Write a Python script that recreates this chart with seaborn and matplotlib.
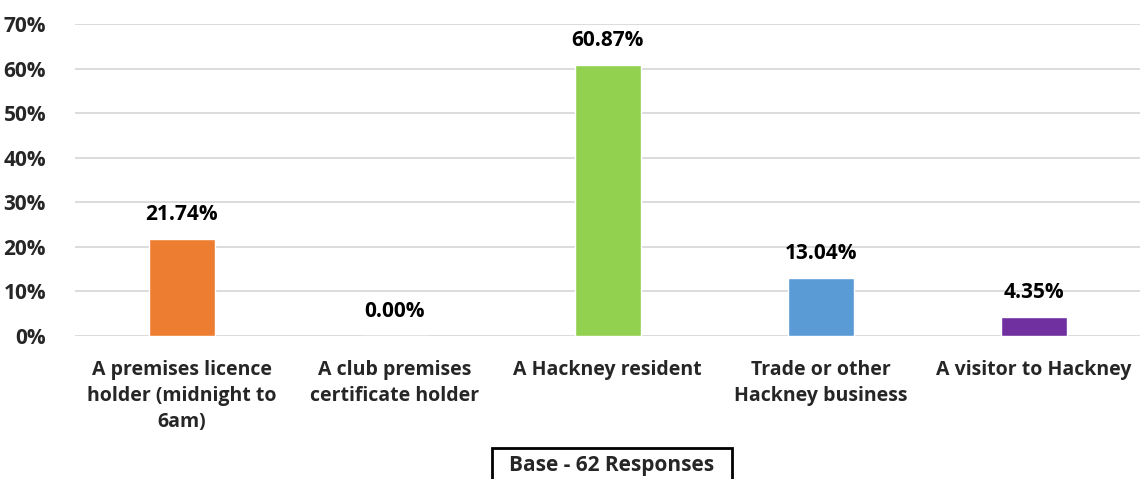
import numpy as np
import pandas as pd
import matplotlib
matplotlib.use("Agg")
import matplotlib.pyplot as plt
import seaborn as sns
from matplotlib.patches import Rectangle
from matplotlib.ticker import PercentFormatter

categories = [
    "A premises licence\nholder (midnight to\n6am)",
    "A club premises\ncertificate holder",
    "A Hackney resident",
    "Trade or other\nHackney business",
    "A visitor to Hackney",
]
values = [21.74, 0.00, 60.87, 13.04, 4.35]
colors = ["#ED7D31", "#A5A5A5", "#92D050", "#5B9BD5", "#7030A0"]
y_ticks = [0, 10, 20, 30, 40, 50, 60, 70]
base_note = "Base - 62 Responses"

sns.set_theme(style="white")
plt.rcParams["font.family"] = ["Open Sans", "DejaVu Sans"]
plt.rcParams["font.weight"] = "bold"

data = pd.DataFrame({"category": categories, "value": values})

fig = plt.figure(figsize=(11.4, 4.79), dpi=100)
ax = fig.add_axes([0.066, 0.2985, 0.934, 0.6515])

sns.barplot(data=data, x="category", y="value", hue="category",
            palette=colors, saturation=1, width=0.31, legend=False, ax=ax, zorder=3)

fs = 14
fs_num = 15
ax.set_ylim(0, 70)
ax.set_yticks(y_ticks)
ax.yaxis.set_major_formatter(PercentFormatter(decimals=0))
ax.grid(axis="y", color="#D9D9D9", linewidth=1.3, zorder=0)
for s in ax.spines.values():
    s.set_visible(False)
ax.tick_params(axis="y", length=0, labelsize=fs_num, pad=21)
ax.tick_params(axis="x", length=0, labelsize=fs, pad=17)
for lbl in ax.get_xticklabels() + ax.get_yticklabels():
    lbl.set_fontweight("bold")
    lbl.set_linespacing(1.4)
ax.set_xlabel("")
ax.set_ylabel("")

for i, v in enumerate(values):
    ax.annotate(f"{v:.2f}%", (i, v), xytext=(0, 10), textcoords="offset points",
                ha="center", va="bottom", fontsize=fs_num, fontweight="bold", color="#000000")

# note box at the bottom, cut off by the figure edge like the original
fig.patches.append(Rectangle((492 / 1140, -0.02), 240 / 1140, 31 / 479 + 0.02,
                             transform=fig.transFigure, facecolor="white",
                             edgecolor="black", linewidth=2))
fig.text(612 / 1140, 0.028, base_note, ha="center", va="center",
         fontsize=15, fontweight="bold")

fig.savefig("out.png", dpi=100)
